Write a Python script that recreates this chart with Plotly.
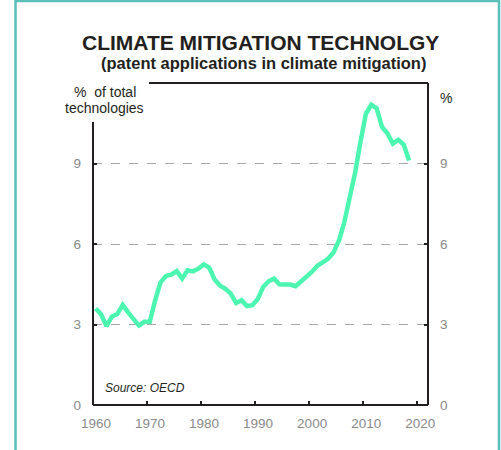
import plotly.graph_objects as go

# Share of climate-mitigation patents in all technologies (%), annual
years = list(range(1960, 2019))
share = [
    3.60, 3.38, 2.94, 3.30, 3.39, 3.73, 3.45, 3.20, 2.96, 3.10,
    3.10, 3.90, 4.57, 4.81, 4.86, 4.99, 4.71, 5.02, 4.98, 5.08,
    5.24, 5.12, 4.68, 4.45, 4.33, 4.15, 3.80, 3.90, 3.69, 3.72,
    3.95, 4.40, 4.61, 4.71, 4.50, 4.49, 4.49, 4.43, 4.60, 4.82,
    4.96, 5.18, 5.33, 5.45, 5.68, 6.12, 6.80, 7.70, 8.65, 9.80,
    10.85, 11.19, 11.05, 10.36, 10.12, 9.74, 9.88, 9.71, 9.11,
]
x_ticks = [1960, 1970, 1980, 1990, 2000, 2010, 2020]
y_ticks = [0, 3, 6, 9]

# annual values plotted at mid-year
x_mid = [y + 0.5 for y in years]

FONT = "Liberation Sans, Arial, Helvetica, sans-serif"
DARK = "#231f20"
GREY = "#8a8a8a"
LINE = "#4cf5b0"
TEAL = "#5bbfba"

fig = go.Figure()
fig.add_trace(go.Scatter(
    x=x_mid, y=share, mode="lines",
    line=dict(color=LINE, width=4.5),
    hoverinfo="x+y", showlegend=False,
))
# companion trace so the right-hand axis is drawn
fig.add_trace(go.Scatter(
    x=x_mid, y=share, mode="lines", yaxis="y2",
    line=dict(color="rgba(0,0,0,0)", width=0),
    hoverinfo="skip", showlegend=False,
))

L, R, T, B = 93, 73, 83, 45
W, H = 501, 450
pw, ph = W - L - R, H - T - B


def px(x):
    return (x - L) / pw


def py(y):
    return (H - B - y) / ph


axis_common = dict(
    range=[0, 12], tickvals=y_ticks, ticks="inside", ticklen=4,
    tickwidth=1.5, tickcolor=DARK, showline=False, zeroline=False,
    tickfont=dict(family=FONT, size=13.5, color=GREY),
    ticklabelstandoff=11, fixedrange=True,
)

fig.update_layout(
    width=W, height=H,
    margin=dict(l=L, r=R, t=T, b=B, pad=0),
    paper_bgcolor="white", plot_bgcolor="white",
    font=dict(family=FONT, color=DARK),
    xaxis=dict(
        range=[1960, 2022], tickvals=x_ticks, ticks="inside", ticklen=4,
        tickwidth=1.5, tickcolor=DARK, showgrid=False, showline=False,
        zeroline=False, tickfont=dict(family=FONT, size=13.5, color=GREY),
        ticklabelstandoff=8, ticklabelshift=3, fixedrange=True,
    ),
    yaxis=dict(
        **axis_common, side="left", showgrid=True,
        gridcolor="#a8a8a8", griddash="dash", gridwidth=1.3,
    ),
    yaxis2=dict(
        **axis_common, side="right", overlaying="y", showgrid=False,
    ),
    shapes=[
        # outer frame
        dict(type="rect", xref="paper", yref="paper",
             x0=px(15.5), x1=px(499), y0=py(470), y1=py(1),
             line=dict(color=TEAL, width=2.5), layer="above"),
        # plot box
        dict(type="line", xref="paper", yref="paper",
             x0=0, x1=1, y0=0, y1=0, line=dict(color=DARK, width=2)),
        dict(type="line", xref="paper", yref="paper",
             x0=1, x1=1, y0=0, y1=1, line=dict(color=DARK, width=2)),
        dict(type="line", xref="paper", yref="paper",
             x0=px(149), x1=1, y0=1, y1=1, line=dict(color=DARK, width=2)),
        dict(type="line", xref="paper", yref="paper",
             x0=0, x1=0, y0=0, y1=py(122), line=dict(color=DARK, width=2)),
    ],
    annotations=[
        dict(text="<b>CLIMATE MITIGATION TECHNOLGY</b>", xref="paper", yref="paper",
             x=px(260), y=py(42), xanchor="center", yanchor="middle",
             showarrow=False, font=dict(family=FONT, size=21, color=DARK)),
        dict(text="<b>(patent applications in climate mitigation)</b>",
             xref="paper", yref="paper", x=px(263), y=py(63),
             xanchor="center", yanchor="middle", showarrow=False,
             font=dict(family=FONT, size=16.5, color=DARK)),
        dict(text="% \u00a0of total", xref="paper", yref="paper",
             x=px(104.5), y=py(92), xanchor="center", yanchor="middle",
             showarrow=False, font=dict(family=FONT, size=14, color=DARK)),
        dict(text="technologies", xref="paper", yref="paper",
             x=px(104.5), y=py(108), xanchor="center", yanchor="middle",
             showarrow=False, font=dict(family=FONT, size=14, color=DARK)),
        dict(text="%", xref="paper", yref="paper",
             x=px(446), y=py(98), xanchor="center", yanchor="middle",
             showarrow=False, font=dict(family=FONT, size=14, color=DARK)),
        dict(text="<i>Source: OECD</i>", xref="paper", yref="paper",
             x=px(103), y=py(388), xanchor="left", yanchor="middle",
             showarrow=False, font=dict(family=FONT, size=12, color=DARK)),
    ],
)

fig.write_html("out.html")
